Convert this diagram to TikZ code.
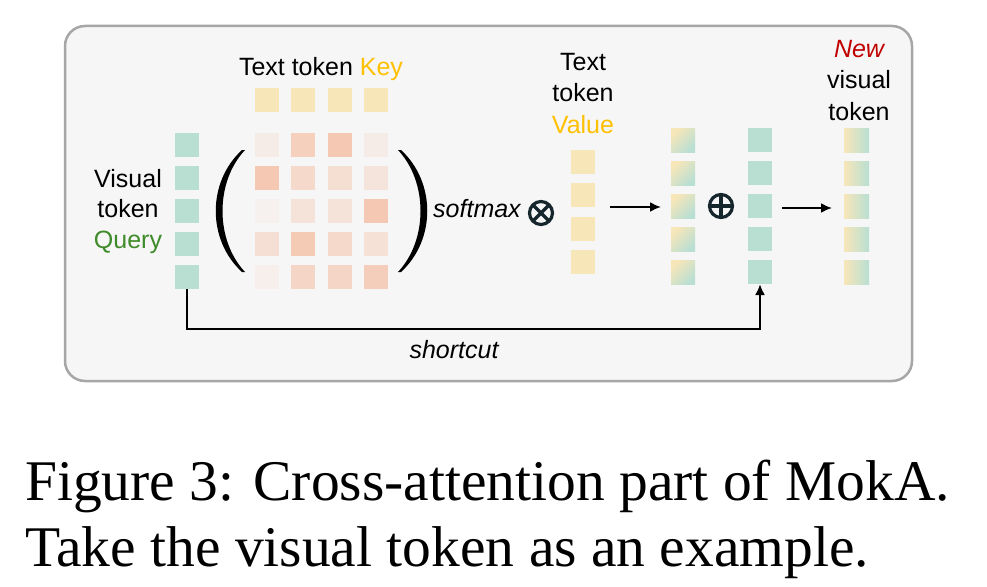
\documentclass[tikz,border=0pt]{standalone}
\usepackage{fontspec}
\setmainfont{Liberation Sans}
\newfontfamily\captionfont{Liberation Serif}
\usetikzlibrary{arrows.meta}
\definecolor{MokaPanel}{HTML}{F6F6F6}
\definecolor{MokaFrame}{HTML}{A6A6A6}
\definecolor{MokaTeal}{HTML}{B9DFD3}
\definecolor{MokaKey}{HTML}{F7E6B8}
\definecolor{MokaAttn}{HTML}{F4C3AA}
\definecolor{MokaGold}{HTML}{FFC000}
\definecolor{MokaGreen}{HTML}{3F8B2A}
\definecolor{MokaRed}{HTML}{C00000}
\definecolor{MokaOp}{HTML}{15262C}

\begin{document}
\begin{tikzpicture}[x=1pt,y=-1pt,
    tok/.style={minimum width=24pt,minimum height=24pt,inner sep=0pt,outer sep=0pt},
    mixtok/.style={tok,top color=MokaKey,bottom color=MokaTeal,shading angle=45},
    newtok/.style={tok,minimum width=25pt,left color=MokaKey,right color=MokaTeal},
    txt/.style={inner sep=0pt,align=center,font=\fontsize{25}{31}\selectfont},
    flow/.style={line width=2pt,-{Latex[length=11pt,width=10pt]}},
    opsym/.style={MokaOp,line width=3.2pt}]
  \useasboundingbox (0,0) rectangle (987,586);
  \fill[white] (0,0) rectangle (987,586);
  \draw[MokaFrame,line width=2.5pt,fill=MokaPanel,rounded corners=20pt] (65,26) rectangle (912,381);

  % query, key and value tokens
  \foreach \i/\y in {1/145,2/178,3/211,4/244,5/277}
    \node[tok,fill=MokaTeal] (q\i) at (187,\y) {};
  \foreach \j/\x in {1/267,2/303.3,3/339.7,4/376}
    \node[tok,fill=MokaKey] (k\j) at (\x,100) {};
  \foreach \i/\y in {1/162,2/195.3,3/228.7,4/262}
    \node[tok,fill=MokaKey] (v\i) at (583,\y) {};

  % attention map
  \foreach \r/\y/\vals in {1/145/{20,75,90,20},2/178/{90,55,48,35},3/211/{10,38,40,90},
                           4/244/{45,85,55,42},5/277/{14,65,65,78}}
    \foreach \p [count=\c] in \vals
      \node[tok,fill=MokaAttn!\p!MokaPanel] (a\r\c) at ({230.6+36.4*\c},\y) {};

  % brackets
  \fill (242,150) .. controls (207,182) and (207,240) .. (242,272)
     -- (245,272) .. controls (215,240) and (215,182) .. (245,150) -- cycle;
  \fill (401,150) .. controls (436,182) and (436,240) .. (401,272)
     -- (398,272) .. controls (428,240) and (428,182) .. (398,150) -- cycle;

  % weighted, residual and new tokens
  \foreach \i/\y in {1/140,2/173,3/206,4/239,5/272} {
    \node[mixtok] (m\i) at (683,\y) {};
    \node[tok,fill=MokaTeal] (r\i) at (760,\y) {};
    \node[newtok] (n\i) at (856.5,\y) {};
  }

  % operators
  \node[opsym,draw,circle,minimum size=23pt,inner sep=0pt,outer sep=0pt] (mul) at (541,213) {};
  \draw[opsym] (mul.north west) -- (mul.south east) (mul.north east) -- (mul.south west);
  \node[opsym,draw,circle,minimum size=23pt,inner sep=0pt,outer sep=0pt] (add) at (721,206) {};
  \draw[opsym] (add.north) -- (add.south) (add.west) -- (add.east);

  % arrows
  \coordinate (f1) at (610,207);
  \coordinate (t1) at (661,207);
  \coordinate (f2) at (782,208);
  \coordinate (t2) at (832,208);
  \draw[flow] (f1) -- (t1);
  \draw[flow] (f2) -- (t2);
  \draw[flow,line width=2.2pt] (q5.south) -- ++(0,40) -| (r5.south);

  % labels
  \node[txt,anchor=base] (kcap) at (321,75) {Text token \textcolor{MokaGold}{Key}};
  \node[txt,anchor=base,font=\fontsize{25}{30.5}\selectfont] (qcap) at (128,248)
    {Visual\\token\\\textcolor{MokaGreen}{Query}};
  \node[txt,anchor=base,font=\fontsize{25}{31.5}\selectfont] (vcap) at (583,133)
    {Text\\token\\\textcolor{MokaGold}{Value}};
  \node[txt,anchor=base,font=\fontsize{25}{31.5}\selectfont] (ncap) at (859,120)
    {\textcolor{MokaRed}{\itshape New}\\visual\\token};
  \node[txt,anchor=base west,font=\fontsize{25}{31}\selectfont\itshape] (smax) at (433,217) {softmax};
  \node[txt,anchor=base,font=\fontsize{25}{31}\selectfont\itshape] (sc) at (454,358) {shortcut};

  % caption
  \node[anchor=base west,inner sep=0pt,align=left,font=\captionfont\fontsize{57.5}{66}\selectfont] (cap)
    at (25,566) {Figure 3: Cross-attention part of MokA.\\Take the visual token as an example.};
\end{tikzpicture}
\end{document}
